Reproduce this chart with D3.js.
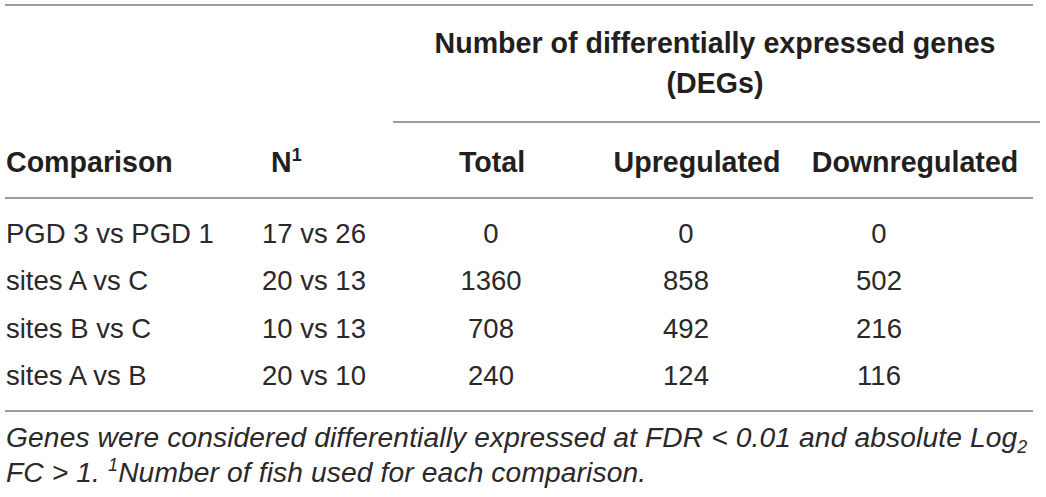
<!DOCTYPE html>
<html><head><meta charset="utf-8">
<script src="https://cdn.jsdelivr.net/npm/d3@7/dist/d3.min.js"></script>
<style>body{margin:0;background:#fff;overflow:hidden}</style>
</head><body>
<script>
// ---- data ----
const comparisons = ["PGD 3 vs PGD 1", "sites A vs C", "sites B vs C", "sites A vs B"];
const nFish = ["17 vs 26", "20 vs 13", "10 vs 13", "20 vs 10"];
const totalDEGs = [0, 1360, 708, 240];
const upDEGs = [0, 858, 492, 124];
const downDEGs = [0, 502, 216, 116];
const columnHeaders = ["Comparison", "N", "Total", "Upregulated", "Downregulated"];
const groupHeaderLines = ["Number of differentially expressed genes", "(DEGs)"];
const footnoteLine1 = "Genes were considered differentially expressed at FDR < 0.01 and absolute Log";
const footnoteLine2a = "FC > 1. ";
const footnoteLine2b = "Number of fish used for each comparison.";

// ---- layout ----
const W = 1046, H = 497;
const FONT = "'Liberation Sans', Arial, Helvetica, sans-serif";
const TXT = "#231f20";
const BODY = "#2b2829";
const RULE = "#9d9d9d";

const svg = d3.select("body").append("svg").attr("width", W).attr("height", H)
  .style("font-family", FONT);

const cols = ["comp", "n", "total", "up", "down"];
const headX = d3.scaleOrdinal().domain(cols).range([6, 271, 492, 697, 915]);
const bodyX = d3.scaleOrdinal().domain(cols).range([6, 262, 491, 686, 879]);
const anchor = d3.scaleOrdinal().domain(cols).range(["start", "start", "middle", "middle", "middle"]);
const rowY = d3.scalePoint().domain(comparisons).range([243, 385]);

// rules
const rules = [
  {y: 5, x1: 5, x2: 1033},
  {y: 122, x1: 393, x2: 1040},
  {y: 198, x1: 5, x2: 1033},
  {y: 411, x1: 5, x2: 1033}
];
svg.selectAll("line.rule").data(rules).join("line").attr("class", "rule")
  .attr("x1", d => d.x1).attr("x2", d => d.x2).attr("y1", d => d.y).attr("y2", d => d.y)
  .attr("stroke", RULE).attr("stroke-width", 1.8);

// group header
svg.selectAll("text.group").data(groupHeaderLines).join("text").attr("class", "group")
  .attr("x", 715).attr("y", (d, i) => i === 0 ? 53 : 93)
  .attr("text-anchor", "middle").attr("font-weight", "bold").attr("font-size", 28.6)
  .attr("fill", TXT).text(d => d);

// column headers
const hdr = svg.selectAll("text.colhead").data(cols).join("text").attr("class", "colhead")
  .attr("x", d => headX(d)).attr("y", 172)
  .attr("text-anchor", d => anchor(d)).attr("font-weight", "bold").attr("font-size", 28.6)
  .attr("fill", TXT);
hdr.append("tspan").text((d, i) => columnHeaders[i]);
hdr.filter(d => d === "n").append("tspan").attr("font-size", 18).attr("dy", -11).text("1");

// body rows
const rows = comparisons.map((c, i) => ({
  comp: c, n: nFish[i], total: totalDEGs[i], up: upDEGs[i], down: downDEGs[i]
}));
const rowG = svg.selectAll("g.row").data(rows).join("g").attr("class", "row")
  .attr("transform", d => `translate(0,${rowY(d.comp)})`);
rowG.selectAll("text").data(r => cols.map(k => ({k, v: r[k]}))).join("text")
  .attr("x", d => bodyX(d.k)).attr("y", 0)
  .attr("text-anchor", d => anchor(d.k)).attr("font-size", 27.5)
  .attr("fill", BODY).text(d => d.v);

// footnote
const fs = 28.2;
const f1 = svg.append("text").attr("x", 6).attr("y", 447)
  .attr("font-style", "italic").attr("font-size", fs).attr("letter-spacing", 0.12).attr("fill", BODY);
f1.append("tspan").text(footnoteLine1);
f1.append("tspan").attr("font-size", 18).attr("dy", 6).text("2");

const f2 = svg.append("text").attr("x", 6).attr("y", 482)
  .attr("font-style", "italic").attr("font-size", fs).attr("letter-spacing", 0.12).attr("fill", BODY);
f2.append("tspan").text(footnoteLine2a);
f2.append("tspan").attr("font-size", 18).attr("dy", -11).text("1");
f2.append("tspan").attr("dy", 11).text(footnoteLine2b);
</script>
</body></html>
